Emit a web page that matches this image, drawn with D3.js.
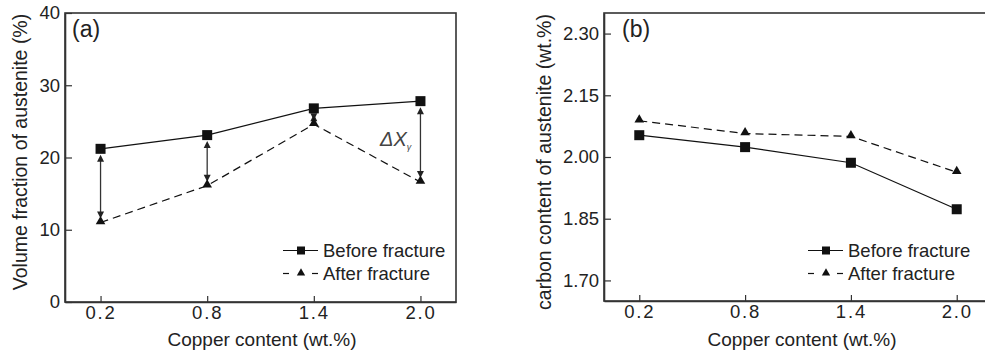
<!DOCTYPE html>
<html>
<head>
<meta charset="utf-8">
<script src="https://cdn.jsdelivr.net/npm/d3@7"></script>
<style>
  body { margin: 0; background: #fff; }
  svg { display: block; font-family: "Liberation Sans", Arial, Helvetica, sans-serif; }
  text { fill: #222; }
</style>
</head>
<body>
<div id="chart"></div>
<script>
const w = 985;
const h = 354;

const copper = [0.2, 0.8, 1.4, 2.0];
const xTicks = ["0.2", "0.8", "1.4", "2.0"];

// panel (a) volume fraction of austenite (%)
const volBefore = [21.2, 23.1, 26.8, 27.8];
const volAfter = [11.0, 16.1, 24.6, 16.6];
const volTicks = [0, 10, 20, 30, 40];

// panel (b) carbon content of austenite (wt.%)
const carbBefore = [2.053, 2.024, 1.986, 1.873];
const carbAfter = [2.088, 2.057, 2.050, 1.963];
const carbTicks = [1.70, 1.85, 2.00, 2.15, 2.30];

const seriesNames = ["Before fracture", "After fracture"];

const svg = d3.select("#chart")
    .append("svg")
    .attr("width", w)
    .attr("height", h);

function drawPanel(opt) {
    const g = svg.append("g");

    let xScale = d3.scaleLinear()
        .domain([0, 2.2])
        .range([opt.left, opt.right]);

    let yScale = d3.scaleLinear()
        .domain(opt.yDomain)
        .range([opt.bottom, opt.top]);

    // frame
    g.append("rect")
        .attr("x", opt.left)
        .attr("y", opt.top)
        .attr("width", opt.right - opt.left)
        .attr("height", opt.bottom - opt.top)
        .attr("fill", "none")
        .attr("stroke", "#333")
        .attr("stroke-width", 1.6);

    let xAxis = d3.axisBottom(xScale)
        .tickValues(copper)
        .tickFormat((d, i) => xTicks[i])
        .tickSizeInner(-6)
        .tickSizeOuter(0)
        .tickPadding(4);

    let yAxis = d3.axisLeft(yScale)
        .tickValues(opt.yTicks)
        .tickFormat(opt.yFormat)
        .tickSizeInner(-7)
        .tickSizeOuter(0)
        .tickPadding(5);

    let gx = g.append("g")
        .attr("transform", "translate(0, " + opt.bottom + ")")
        .call(xAxis);
    gx.select(".domain").attr("stroke", "#333").attr("stroke-width", 1.6);
    gx.selectAll(".tick line").attr("stroke", "#333").attr("stroke-width", 1.2);
    gx.selectAll(".tick text")
        .attr("font-size", 18.5)
        .attr("letter-spacing", 1.8)
        .attr("fill", "#222");

    let gy = g.append("g")
        .attr("transform", "translate(" + opt.left + ", 0)")
        .call(yAxis);
    gy.select(".domain").attr("stroke", "#333").attr("stroke-width", 1.6);
    gy.selectAll(".tick line").attr("stroke", "#333").attr("stroke-width", 1.2);
    gy.selectAll(".tick text")
        .attr("font-size", 18.5)
        .attr("fill", "#222");

    // axis titles
    g.append("text")
        .attr("x", opt.xTitleX)
        .attr("y", 346)
        .attr("text-anchor", "middle")
        .attr("font-size", 19)
        .text("Copper content (wt.%)");

    g.append("text")
        .attr("transform", "translate(" + opt.yTitleX + ", " + opt.yTitleY + ") rotate(-90)")
        .attr("text-anchor", "middle")
        .attr("font-size", 19.5)
        .text(opt.yTitle);

    // panel label
    g.append("text")
        .attr("x", opt.labelX)
        .attr("y", 37)
        .attr("font-size", 23)
        .text(opt.label);

    const line = d3.line()
        .x((d, i) => xScale(copper[i]))
        .y(d => yScale(d));

    // difference arrows (drawn under the markers)
    if (opt.arrows) {
        copper.forEach((c, i) => {
            let x = xScale(c);
            let y1 = yScale(opt.before[i]) + 6;
            let y2 = yScale(opt.after[i]) - 4;
            g.append("line")
                .attr("x1", x).attr("x2", x)
                .attr("y1", y1 + 4).attr("y2", y2 - 4)
                .attr("stroke", "#333")
                .attr("stroke-width", 1.3);
            g.append("path")
                .attr("d", `M${x},${y1} L${x - 3.5},${y1 + 7} L${x + 3.5},${y1 + 7} Z`)
                .attr("fill", "#222");
            g.append("path")
                .attr("d", `M${x},${y2} L${x - 3.5},${y2 - 7} L${x + 3.5},${y2 - 7} Z`)
                .attr("fill", "#222");
        });
    }

    g.append("path")
        .datum(opt.after)
        .attr("d", line)
        .attr("fill", "none")
        .attr("stroke", "#111")
        .attr("stroke-width", 1.2)
        .attr("stroke-dasharray", "8,5");

    g.append("path")
        .datum(opt.before)
        .attr("d", line)
        .attr("fill", "none")
        .attr("stroke", "#111")
        .attr("stroke-width", 1.2);

    g.selectAll(".sq")
        .data(opt.before)
        .enter()
        .append("rect")
        .attr("x", (d, i) => xScale(copper[i]) - 5)
        .attr("y", d => yScale(d) - 5)
        .attr("width", 10)
        .attr("height", 10)
        .attr("fill", "#111");

    g.selectAll(".tri")
        .data(opt.after)
        .enter()
        .append("path")
        .attr("d", d3.symbol().type(d3.symbolTriangle).size(40))
        .attr("transform", (d, i) => "translate(" + xScale(copper[i]) + ", " + (yScale(d) - 1) + ")")
        .attr("fill", "#111");

    if (opt.deltaX) {
        let t = g.append("text")
            .attr("x", opt.deltaX)
            .attr("y", opt.deltaY)
            .attr("font-size", 20)
            .attr("font-style", "italic")
            .style("fill", "#444");
        t.append("tspan").text("ΔX");
        t.append("tspan")
            .attr("font-size", 9)
            .attr("dy", 4)
            .text("γ");
    }

    // legend
    const lx = opt.legendX;
    const rows = [250.5, 273.5];
    g.append("line")
        .attr("x1", lx).attr("x2", lx + 35)
        .attr("y1", rows[0]).attr("y2", rows[0])
        .attr("stroke", "#111")
        .attr("stroke-width", 1.2);
    g.append("rect")
        .attr("x", lx + 14).attr("y", rows[0] - 4)
        .attr("width", 8).attr("height", 8)
        .attr("fill", "#111");
    g.append("line")
        .attr("x1", lx).attr("x2", lx + 6)
        .attr("y1", rows[1]).attr("y2", rows[1])
        .attr("stroke", "#111")
        .attr("stroke-width", 1.2);
    g.append("line")
        .attr("x1", lx + 29).attr("x2", lx + 35)
        .attr("y1", rows[1]).attr("y2", rows[1])
        .attr("stroke", "#111")
        .attr("stroke-width", 1.2);
    g.append("path")
        .attr("d", d3.symbol().type(d3.symbolTriangle).size(30))
        .attr("transform", "translate(" + (lx + 18) + ", " + (rows[1] - 0.5) + ")")
        .attr("fill", "#111");

    g.selectAll(".leg")
        .data(seriesNames)
        .enter()
        .append("text")
        .attr("x", lx + 40)
        .attr("y", (d, i) => rows[i] + 6)
        .attr("font-size", 18.5)
        .text(d => d);
}

drawPanel({
    left: 65, right: 456, top: 13, bottom: 302,
    yDomain: [0, 40], yTicks: volTicks, yFormat: d3.format("d"),
    before: volBefore, after: volAfter,
    yTitle: "Volume fraction of austenite (%)", yTitleX: 27, yTitleY: 152,
    xTitleX: 262, label: "(a)", labelX: 72,
    legendX: 283, arrows: true, deltaX: 380, deltaY: 146
});

drawPanel({
    left: 604, right: 992, top: 13, bottom: 301,
    yDomain: [1.65, 2.35], yTicks: carbTicks, yFormat: d3.format(".2f"),
    before: carbBefore, after: carbAfter,
    yTitle: "carbon content of austenite (wt.%)", yTitleX: 551, yTitleY: 162,
    xTitleX: 802, label: "(b)", labelX: 622,
    legendX: 808, arrows: false
});
</script>
</body>
</html>
